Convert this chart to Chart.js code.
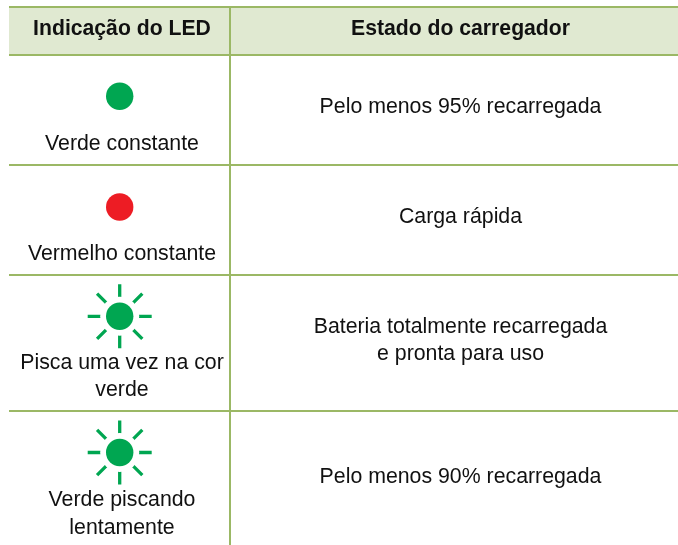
<!DOCTYPE html>
<html>
<head>
<meta charset="utf-8">
<style>
	html, body { margin: 0; padding: 0; background: #fff; }
	canvas { display: block; }
</style>
<script src="https://cdn.jsdelivr.net/npm/chart.js@4/dist/chart.umd.js"></script>
</head>
<body>
<canvas id="chart" width="678" height="545"></canvas>
<script>
// table content
var headers = ["Indicação do LED", "Estado do carregador"];
var ledLabels = [
	["Verde constante"],
	["Vermelho constante"],
	["Pisca uma vez na cor", "verde"],
	["Verde piscando", "lentamente"]
];
var stateLabels = [
	["Pelo menos 95% recarregada"],
	["Carga rápida"],
	["Bateria totalmente recarregada", "e pronta para uso"],
	["Pelo menos 90% recarregada"]
];

// rules and leds, in axis units
var ruleRows = [7, 55, 165, 275, 411];
var ruleCols = [230];
var headerBand = [{x: 9, y: 55}, {x: 678, y: 55}];
var greenLeds = [{x: 119.7, y: 96.3}];
var redLeds = [{x: 119.7, y: 207}];
var blinkLeds = [{x: 119.7, y: 316.3}, {x: 119.7, y: 452.5}];

// text anchors
var headerY = 35;
var ledTextY = [[150], [260], [369, 396], [506, 534]];
var stateTextY = [[113], [223], [333, 360], [483]];
var ledTextX = 122;
var stateTextX = 460.5;

var GREEN = "#00a651";
var RED = "#ed1c24";
var RULE = "#9bb865";
var BAND = "#e0e9d1";

var tablePlugin = {
	id: "tableText",
	afterDraw: function(chart) {
		var c = chart.ctx;
		var sx = chart.scales.x;
		var sy = chart.scales.y;
		c.save();
		c.textAlign = "center";
		c.textBaseline = "alphabetic";
		c.fillStyle = "#111";
		c.font = "bold 21.2px 'Liberation Sans'";
		c.fillText(headers[0], sx.getPixelForValue(ledTextX), sy.getPixelForValue(headerY));
		c.fillText(headers[1], sx.getPixelForValue(stateTextX), sy.getPixelForValue(headerY));
		c.font = "21.3px 'Liberation Sans'";
		for(var i=0; i<ledLabels.length; i++) {
			for(var j=0; j<ledLabels[i].length; j++) {
				c.fillText(ledLabels[i][j], sx.getPixelForValue(ledTextX), sy.getPixelForValue(ledTextY[i][j]));
			}
			for(var k=0; k<stateLabels[i].length; k++) {
				c.fillText(stateLabels[i][k], sx.getPixelForValue(stateTextX), sy.getPixelForValue(stateTextY[i][k]));
			}
		}
		c.restore();
	}
};

new Chart(document.getElementById("chart"), {
	type: "scatter",
	data: {
		datasets: [{
			// first dataset is painted last
			data: greenLeds.concat(blinkLeds),
			pointRadius: 13.7,
			pointBackgroundColor: GREEN,
			pointBorderWidth: 0
		}, {
			data: redLeds,
			pointRadius: 13.7,
			pointBackgroundColor: RED,
			pointBorderWidth: 0
		}, {
			// white disc cuts the star into separate rays
			data: blinkLeds,
			pointRadius: 19.5,
			pointBackgroundColor: "#fff",
			pointBorderWidth: 0
		}, {
			data: blinkLeds,
			pointStyle: "star",
			pointRadius: 32,
			pointBorderColor: GREEN,
			pointBorderWidth: 3.3
		}, {
			data: headerBand,
			showLine: true,
			borderWidth: 0,
			pointRadius: 0,
			fill: "end",
			backgroundColor: BAND
		}]
	},
	options: {
		responsive: false,
		animation: false,
		events: [],
		layout: { autoPadding: false, padding: { left: 9, top: 7, right: 0, bottom: 0 } },
		plugins: { legend: { display: false }, tooltip: { enabled: false } },
		scales: {
			x: {
				type: "linear",
				min: 9,
				max: 678,
				afterBuildTicks: function(axis) {
					axis.ticks = ruleCols.map(function(v) { return {value: v}; });
				},
				ticks: { display: false },
				border: { display: false },
				grid: { color: RULE, lineWidth: 2, drawTicks: false, z: 1 }
			},
			y: {
				type: "linear",
				reverse: true,
				min: 7,
				max: 545,
				afterBuildTicks: function(axis) {
					axis.ticks = ruleRows.map(function(v) { return {value: v}; });
				},
				ticks: { display: false },
				border: { display: false },
				grid: { color: RULE, lineWidth: 2, drawTicks: false, z: 1 }
			}
		}
	},
	plugins: [tablePlugin]
});
</script>
</body>
</html>
